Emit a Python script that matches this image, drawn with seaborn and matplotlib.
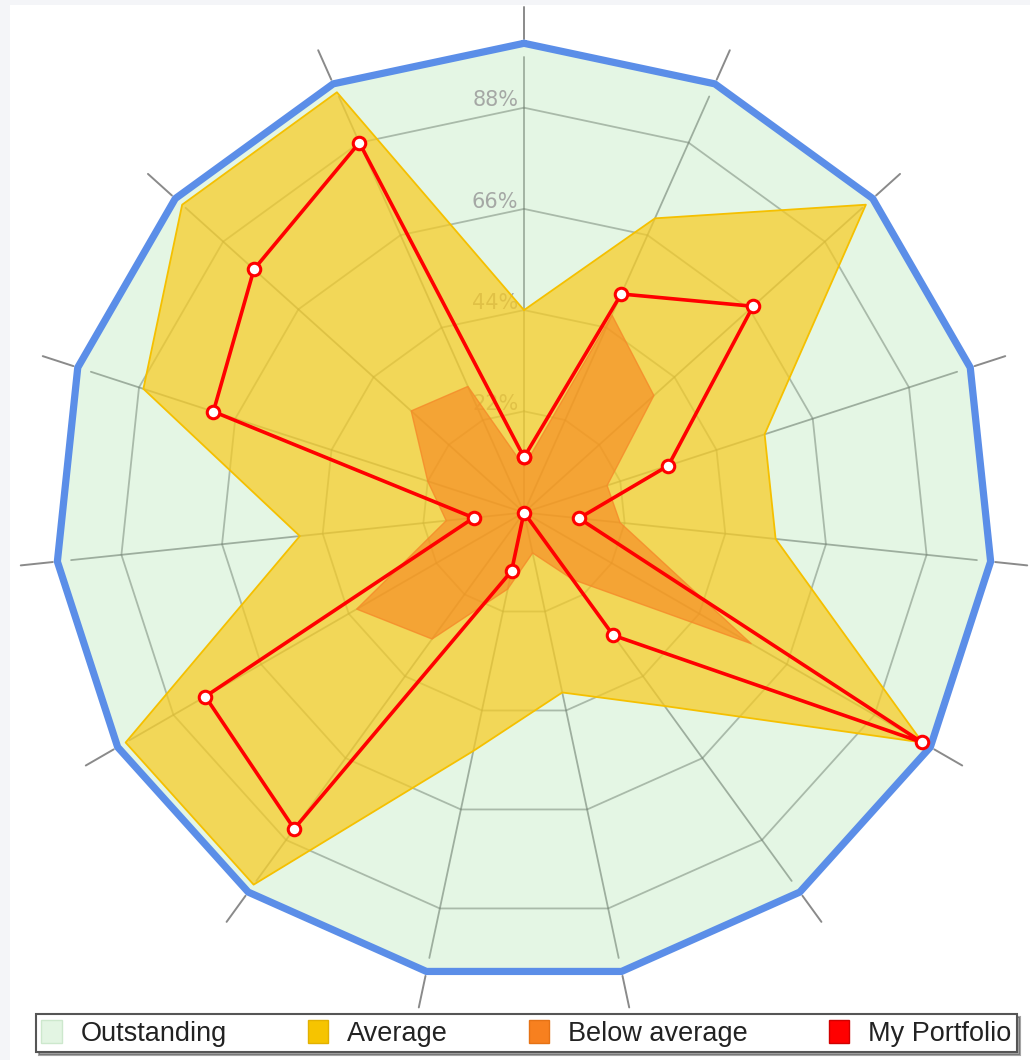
import numpy as np
import pandas as pd
import matplotlib
matplotlib.use("Agg")
import matplotlib.pyplot as plt
from matplotlib.patches import Patch, Rectangle
import seaborn as sns

# ---------------- data (15 axes, clockwise from top) ----------------
n_axes = 15
outstanding = [102, 102, 102, 102, 102, 102, 102, 102, 102, 102, 102, 102, 102, 102, 102]
average = [44, 70, 100, 55, 55, 100, 52, 40, 53, 100, 100, 49, 87, 100, 100]
below_average = [10, 47, 38, 19, 21, 57, 18, 9, 17, 34, 42, 17, 22, 33, 30]
my_portfolio = [12, 52, 67, 33, 12, 100, 33, 0, 13, 85, 80, 11, 71, 79, 88]
ring_values = [22, 44, 66, 88]
ring_labels = ["22%", "44%", "66%", "88%"]
series_names = ["Outstanding", "Average", "Below average", "My Portfolio"]

# ---------------- style ----------------
sns.set_theme(style="white")
plt.rcParams["font.family"] = ["DejaVu Sans"]

W, H = 1030, 1060
fig = plt.figure(figsize=(W / 100, H / 100), dpi=100)
fig.patch.set_facecolor("#F4F5F8")
fig.patches.append(Rectangle((10 / W, 0), 1, (H - 5) / H, transform=fig.transFigure,
                             facecolor="white", edgecolor="none", zorder=-5))

rmax = 110
cx, cy, R = 524, 512.5, 506
ax = fig.add_axes([(cx - R) / W, (H - cy - R) / H, 2 * R / W, 2 * R / H], projection="polar")
ax.set_zorder(1)
ax.set_theta_zero_location("N")
ax.set_theta_direction(-1)
ax.set_ylim(0, rmax)
ax.set_facecolor("none")
ax.grid(False)
ax.set_xticks([])
ax.set_yticks([])
ax.spines["polar"].set_visible(False)

theta = np.linspace(0, 2 * np.pi, n_axes, endpoint=False)
theta_c = np.append(theta, 2 * np.pi)


def closed(vals):
    return np.append(np.asarray(vals, float), vals[0])


# Outstanding (background polygon)
ax.fill(theta_c, closed(outstanding), color="#E4F6E4", zorder=1, lw=0)

# grid rings and spokes
grid_col = "#6f7f70"
for rv in ring_values:
    ax.plot(theta_c, [rv] * (n_axes + 1), color=grid_col, lw=1.3, alpha=0.5, zorder=2)
for t in theta:
    ax.plot([t, t], [0, 99], color=grid_col, lw=1.3, alpha=0.6, zorder=2)
    ax.plot([t, t], [103, rmax], color="#8a8a8a", lw=1.4, zorder=2, clip_on=False)

# ring labels
for rv, lab in zip(ring_values, ring_labels):
    ax.annotate(lab, xy=(0, rv), xytext=(-4, 1), textcoords="offset points",
                ha="right", va="baseline", fontsize=15, color="#A5A8A5", zorder=2)

# outline of Outstanding
ax.plot(theta_c, closed(outstanding), color="#5B8EE8", lw=5.2, zorder=6,
        solid_joinstyle="miter")

# Average
ax.fill(theta_c, closed(average), facecolor="#F8CB22", alpha=0.72, zorder=3, lw=0)
ax.plot(theta_c, closed(average), color="#F5C000", lw=1.3, zorder=3)

# Below average
ax.fill(theta_c, closed(below_average), facecolor="#F7821E", alpha=0.6, zorder=4, lw=0)
ax.plot(theta_c, closed(below_average), color="#F58A2A", lw=1.0, alpha=0.8, zorder=4)

# My Portfolio
df = pd.DataFrame({"theta": theta_c, "value": closed(my_portfolio)})
sns.lineplot(data=df, x="theta", y="value", sort=False, ax=ax, color="#FF0000",
             lw=2.6, marker="o", markersize=9, markerfacecolor="white",
             markeredgecolor="#FF0000", markeredgewidth=2.2, zorder=7)
ax.set_xlabel("")
ax.set_ylabel("")
ax.set_ylim(0, rmax)
ax.set_xticks([])
ax.set_yticks([])

# legend
handles = [
    Patch(facecolor="#E3F5E3", edgecolor="#CDE8CD", lw=1),
    Patch(facecolor="#F6C400", edgecolor="#E2B100", lw=1),
    Patch(facecolor="#F7801F", edgecolor="#E57215", lw=1),
    Patch(facecolor="#FF0000", edgecolor="#D00000", lw=1),
]
leg = fig.legend(handles, series_names, loc="lower left",
                 bbox_to_anchor=(36 / W, 8 / H, 981 / W, 38 / H), mode="expand", ncol=4,
                 frameon=True, fancybox=False, shadow=True, edgecolor="#555555",
                 facecolor="white", framealpha=1,
                 prop=dict(family=["Liberation Sans", "DejaVu Sans"], size=19.5),
                 handlelength=0.75, handleheight=0.95, handletextpad=0.7,
                 borderpad=0.2, borderaxespad=0, columnspacing=1.0)
leg.get_frame().set_linewidth(1.5)
for txt in leg.get_texts():
    txt.set_color("#222222")

fig.savefig("out.png", dpi=100, facecolor=fig.get_facecolor())
